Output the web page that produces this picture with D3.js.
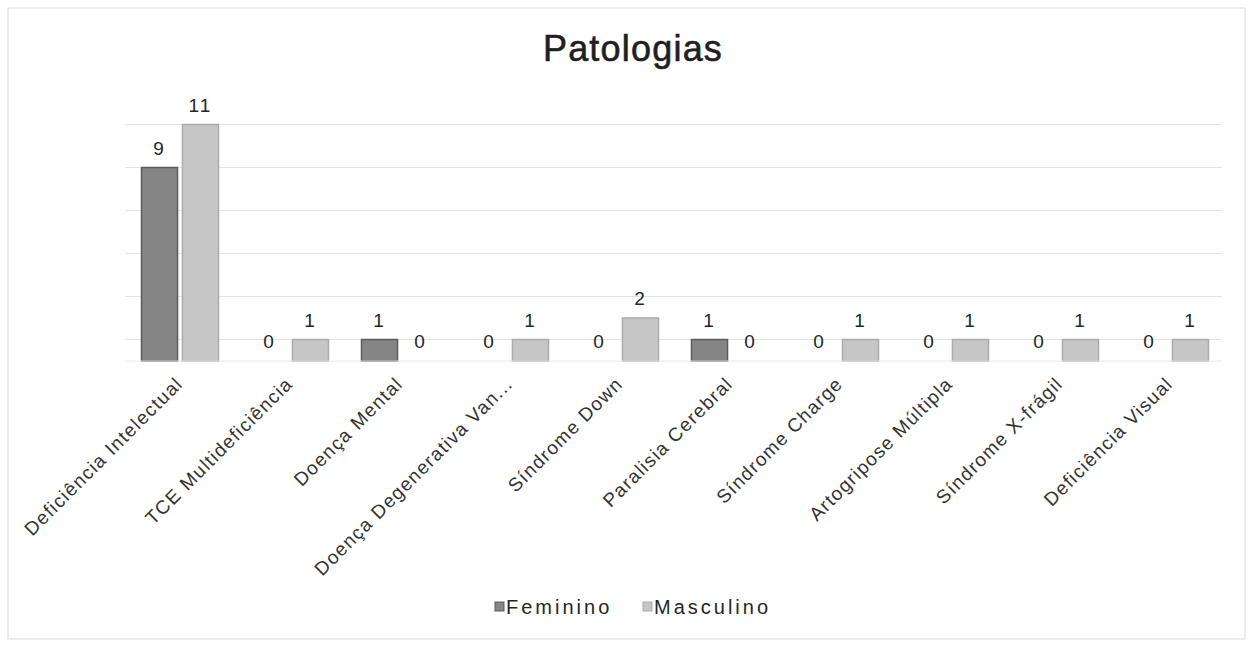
<!DOCTYPE html>
<html>
<head>
<meta charset="utf-8">
<script src="https://cdn.jsdelivr.net/npm/d3@7"></script>
<style>
  body { margin: 0; background: #fff; font-family: "Liberation Sans", Arial, sans-serif; }
</style>
</head>
<body>
<div id="chart"></div>
<script>
// chart data
const categories = [
    'Deficiência Intelectual', 'TCE Multideficiência', 'Doença Mental',
    'Doença Degenerativa Van...', 'Síndrome Down', 'Paralisia Cerebral',
    'Síndrome Charge', 'Artogripose Múltipla', 'Síndrome X-frágil', 'Deficiência Visual'
];
const series = ['Feminino', 'Masculino'];
const feminino = [9, 0, 1, 0, 0, 1, 0, 0, 0, 0];
const masculino = [11, 1, 0, 1, 2, 0, 1, 1, 1, 1];
const gridValues = [1, 3, 5, 7, 9, 11];

const colors = { Feminino: '#858585', Masculino: '#c6c6c6' };
const strokes = { Feminino: '#5c5c5c', Masculino: '#ababab' };

const width = 1251, height = 645;
const svg = d3.select('#chart').append('svg')
    .attr('width', width)
    .attr('height', height);

// outer frame
svg.append('rect')
    .attr('x', 8).attr('y', 8)
    .attr('width', width - 14).attr('height', height - 14)
    .attr('fill', 'none')
    .attr('stroke', '#d9d9d9');

svg.append('text')
    .attr('x', 633).attr('y', 61)
    .attr('text-anchor', 'middle')
    .attr('font-size', 36)
    .attr('letter-spacing', 1.2)
    .attr('fill', '#1f1f1f')
    .attr('stroke', '#1f1f1f')
    .attr('stroke-width', 0.6)
    .text('Patologias');

const x = d3.scaleBand().domain(categories).range([125, 1225]).paddingInner(0.3).paddingOuter(0.15);
const x1 = d3.scaleBand().domain(series).range([0, x.bandwidth()]).paddingInner(0.12);
const y = d3.scaleLinear().domain([0, 12]).range([361, 103]);

// gridlines
svg.append('g')
    .selectAll('line')
    .data(gridValues)
    .enter().append('line')
    .attr('x1', 125).attr('x2', 1222)
    .attr('y1', d => y(d)).attr('y2', d => y(d))
    .attr('stroke', '#e3e3e3')
    .attr('stroke-width', 1.2);

const rows = categories.map((c, i) => ({
    cat: c,
    values: [
        { key: 'Feminino', value: feminino[i] },
        { key: 'Masculino', value: masculino[i] }
    ]
}));

const groups = svg.append('g')
    .selectAll('g')
    .data(rows)
    .enter().append('g')
    .attr('transform', d => `translate(${x(d.cat)},0)`);

groups.selectAll('rect')
    .data(d => d.values.filter(v => v.value > 0))
    .enter().append('rect')
    .attr('x', d => x1(d.key))
    .attr('y', d => y(d.value))
    .attr('width', x1.bandwidth())
    .attr('height', d => y(0) - y(d.value))
    .attr('fill', d => colors[d.key])
    .attr('stroke', d => strokes[d.key])
    .attr('stroke-width', 1.5);

groups.selectAll('text')
    .data(d => d.values)
    .enter().append('text')
    .attr('x', d => x1(d.key) + x1.bandwidth() / 2)
    .attr('y', d => y(d.value) - 13)
    .attr('text-anchor', 'middle')
    .attr('font-size', 19)
    .attr('letter-spacing', 2)
    .attr('fill', '#262626')
    .text(d => d.value);

// baseline
svg.append('line')
    .attr('x1', 125).attr('x2', 1222)
    .attr('y1', y(0)).attr('y2', y(0))
    .attr('stroke', '#e8e8e8');

// category labels
svg.append('g')
    .selectAll('text')
    .data(categories)
    .enter().append('text')
    .attr('text-anchor', 'end')
    .attr('font-size', 19)
    .attr('letter-spacing', 1.3)
    .attr('fill', '#333')
    .attr('transform', d => `translate(${x(d) + x.bandwidth() / 2 + 4},${y(0) + 24}) rotate(-45)`)
    .text(d => d);

// legend
const legend = svg.append('g').attr('transform', 'translate(495,607)');
const legendX = [0, 148];
series.forEach((s, i) => {
    const g = legend.append('g').attr('transform', `translate(${legendX[i]},0)`);
    g.append('rect')
        .attr('x', 0).attr('y', -5)
        .attr('width', 9).attr('height', 9)
        .attr('fill', colors[s])
        .attr('stroke', strokes[s]);
    g.append('text')
        .attr('x', 11).attr('y', 7)
        .attr('font-size', 20)
        .attr('letter-spacing', 3)
        .attr('fill', '#262626')
        .text(s);
});
</script>
</body>
</html>
